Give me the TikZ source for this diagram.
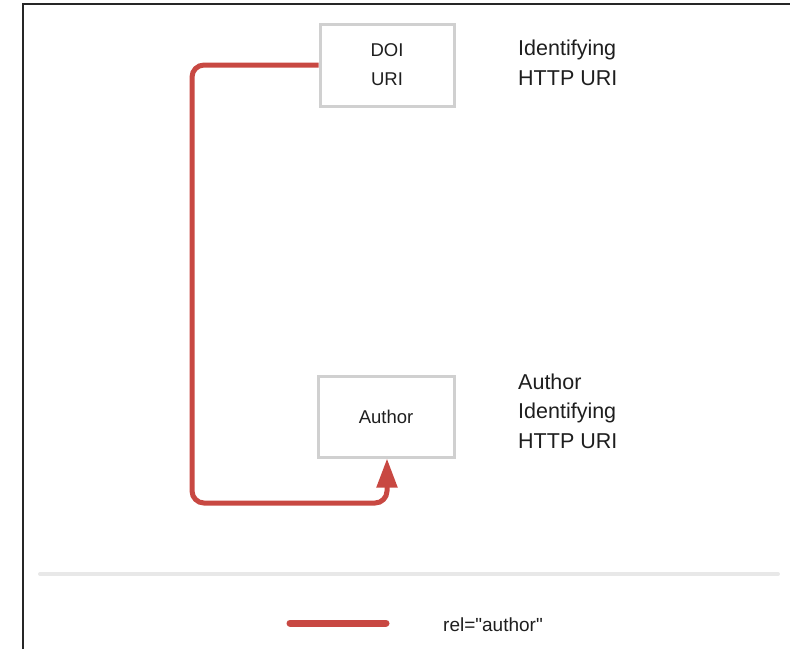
\documentclass[tikz,border=0pt]{standalone}
\usepackage{fontspec}
\newfontfamily\lsans{Liberation Sans}
\usetikzlibrary{arrows.meta}
\definecolor{relred}{RGB}{200,72,66}
\definecolor{boxgray}{RGB}{208,208,208}
\definecolor{sepgray}{RGB}{232,232,232}
\definecolor{txt}{RGB}{30,30,30}
\tikzset{
  uribox/.style={draw=boxgray, line width=3pt, inner sep=0pt, align=center, text=txt,
    font=\lsans\fontsize{18.5}{29}\selectfont},
  sidelabel/.style={anchor=west, align=left, inner sep=0pt, text=txt,
    font=\lsans\fontsize{21.5}{29.5}\selectfont},
  relline/.style={draw=relred, line width=5pt, rounded corners=12pt},
}
\begin{document}
\begin{tikzpicture}[x=1pt,y=-1pt]
\useasboundingbox (0,0) rectangle (790,649);
% frame
\draw[line width=1.5pt, black!85] (23,649) -- (23,4) -- (790,4);
% boxes
\node[uribox, minimum width=134pt, minimum height=82pt] (doi) at (387,65) {DOI\\URI};
\node[uribox, minimum width=136pt, minimum height=81pt] (author) at (386,416.5) {Author};
% labels
\node[sidelabel] (doilabel) at (518,63) {Identifying\\HTTP URI};
\node[sidelabel] (authorlabel) at (518,411) {Author\\Identifying\\HTTP URI};
% connector
\coordinate (c1) at (192,65);
\coordinate (c2) at (192,503);
\coordinate (c3) at (387,503);
\draw[relline, -{Triangle[length=29pt,width=20pt]}]
  (doi.west) -- (c1) -- (c2) -- (c3) -- (c3 |- author.south);
% separator
\coordinate (s1) at (40,574);
\coordinate (s2) at (778,574);
\draw[sepgray, line width=4pt, line cap=round] (s1) -- (s2);
% legend
\coordinate (l1) at (290,623);
\coordinate (l2) at (386,623);
\draw[relred, line width=7pt, line cap=round] (l1) -- (l2);
\node[anchor=west, inner sep=0pt, text=txt, font=\lsans\fontsize{19}{24}\selectfont] (legendtext) at (443,625) {rel="author"};
\end{tikzpicture}
\end{document}
